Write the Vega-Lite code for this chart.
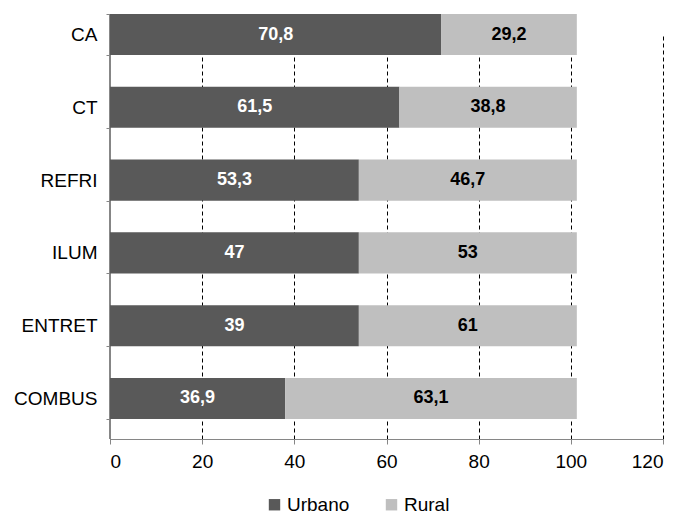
{
  "$schema": "https://vega.github.io/schema/vega-lite/v6.json",
  "width": 553,
  "height": 425,
  "autosize": {"type": "none"},
  "padding": {"left": 110, "top": 14, "right": 18, "bottom": 76},
  "background": "white",
  "config": {
    "view": {"stroke": null},
    "font": "Liberation Sans",
    "axis": {"labelFont": "Liberation Sans", "labelColor": "#000000", "labelFontSize": 19, "titleFont": "Liberation Sans"},
    "legend": {"labelFont": "Liberation Sans"}
  },
  "data": {
    "values": [
      {"categoria": "CA", "zona": "Urbano", "valor": 71.9, "rotulo": "70,8"},
      {"categoria": "CA", "zona": "Rural", "valor": 29.4, "rotulo": "29,2"},
      {"categoria": "CT", "zona": "Urbano", "valor": 62.8, "rotulo": "61,5"},
      {"categoria": "CT", "zona": "Rural", "valor": 38.5, "rotulo": "38,8"},
      {"categoria": "REFRI", "zona": "Urbano", "valor": 54.0, "rotulo": "53,3"},
      {"categoria": "REFRI", "zona": "Rural", "valor": 47.3, "rotulo": "46,7"},
      {"categoria": "ILUM", "zona": "Urbano", "valor": 54.0, "rotulo": "47"},
      {"categoria": "ILUM", "zona": "Rural", "valor": 47.3, "rotulo": "53"},
      {"categoria": "ENTRET", "zona": "Urbano", "valor": 54.0, "rotulo": "39"},
      {"categoria": "ENTRET", "zona": "Rural", "valor": 47.3, "rotulo": "61"},
      {"categoria": "COMBUS", "zona": "Urbano", "valor": 38.0, "rotulo": "36,9"},
      {"categoria": "COMBUS", "zona": "Rural", "valor": 63.3, "rotulo": "63,1"}
    ]
  },
  "transform": [
    {"stack": "valor", "groupby": ["categoria"], "sort": [{"field": "zona", "order": "descending"}], "as": ["x0", "x1"]}
  ],
  "layer": [
    {
      "mark": {"type": "rule", "color": "#868686", "strokeWidth": 1},
      "encoding": {"x": {"datum": 0, "type": "quantitative"}}
    },
    {
      "mark": {"type": "bar"},
      "encoding": {
        "y": {
          "field": "categoria",
          "type": "nominal",
          "sort": ["CA", "CT", "REFRI", "ILUM", "ENTRET", "COMBUS"],
          "scale": {"range": [0, 405], "paddingInner": 0.436, "paddingOuter": 0},
          "axis": {"title": null, "domain": false, "tickColor": "#868686", "tickBand": "extent", "tickSize": 4, "labelPadding": 9}
        },
        "x": {
          "field": "x0",
          "type": "quantitative",
          "scale": {"domain": [0, 120], "nice": false},
          "axis": {
            "title": null,
            "values": [0, 20, 40, 60, 80, 100, 120],
            "grid": true,
            "gridColor": "#000000",
            "gridDash": [4, 3],
            "gridWidth": 1,
            "domainColor": "#868686",
            "tickColor": "#868686",
            "tickSize": 5,
            "labelPadding": 8
          }
        },
        "x2": {"field": "x1"},
        "color": {
          "field": "zona",
          "type": "nominal",
          "sort": ["Urbano", "Rural"],
          "scale": {"domain": ["Urbano", "Rural"], "range": ["#595959", "#bfbfbf"]},
          "legend": {
            "title": null,
            "orient": "none",
            "legendX": 155,
            "legendY": 481,
            "direction": "horizontal",
            "symbolType": "square",
            "symbolSize": 130,
            "symbolStrokeWidth": 0,
            "labelFontSize": 19,
            "labelColor": "#000000",
            "labelOffset": 3,
            "columnPadding": 32
          }
        }
      }
    },
    {
      "transform": [
        {"fold": ["x0", "x1"], "as": ["ponta", "pos"]},
        {"aggregate": [{"op": "mean", "field": "pos", "as": "meio"}], "groupby": ["categoria", "zona", "rotulo"]}
      ],
      "mark": {"type": "text", "fontSize": 18, "fontWeight": "bold", "baseline": "middle", "align": "center"},
      "encoding": {
        "y": {
          "field": "categoria",
          "type": "nominal",
          "sort": ["CA", "CT", "REFRI", "ILUM", "ENTRET", "COMBUS"]
        },
        "x": {"field": "meio", "type": "quantitative"},
        "text": {"field": "rotulo"},
        "color": {
          "condition": {"test": "datum.zona === 'Urbano'", "value": "#ffffff"},
          "value": "#000000"
        }
      }
    }
  ]
}
